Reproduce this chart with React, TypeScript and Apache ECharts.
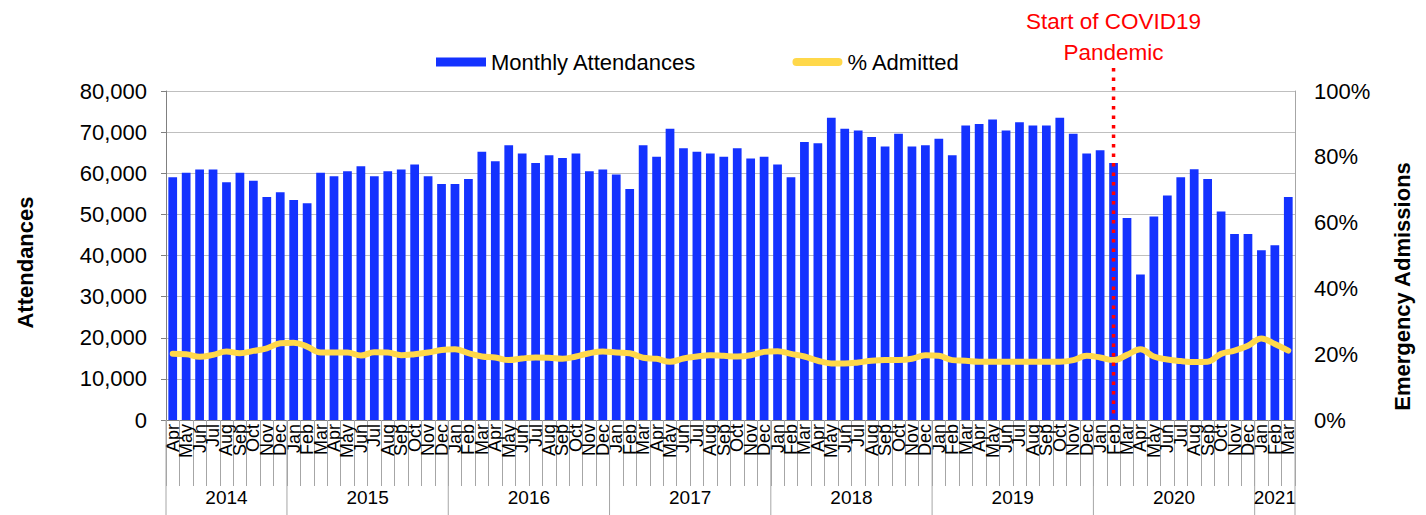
import React, { useEffect, useRef } from 'react';
import * as echarts from 'echarts';

const FONT = '"Liberation Sans", Arial, sans-serif';

const monthNames = ['Jan', 'Feb', 'Mar', 'Apr', 'May', 'Jun', 'Jul', 'Aug', 'Sep', 'Oct', 'Nov', 'Dec'];
const years = ['2014', '2015', '2016', '2017', '2018', '2019', '2020', '2021'];
const yearMonthCounts = [9, 12, 12, 12, 12, 12, 12, 3];
const firstMonthIndex = 3; // April 2014

const attendances = [
  // 2014 Apr-Dec
  59000, 60100, 60900, 60900, 57800, 60100, 58200, 54200, 55400,
  // 2015
  53500, 52700, 60100, 59300, 60500, 61700, 59300, 60500, 60900, 62100, 59300, 57400,
  // 2016
  57400, 58600, 65200, 62900, 66800, 64800, 62500, 64400, 63700, 64800, 60500, 60900,
  // 2017
  59700, 56200, 66800, 64000, 70800, 66100, 65200, 64800, 64000, 66100, 63600, 64000,
  // 2018
  62100, 59000, 67600, 67300, 73500, 70800, 70400, 68800, 66500, 69600, 66500, 66800,
  // 2019
  68400, 64400, 71600, 72000, 73100, 70400, 72400, 71600, 71600, 73500, 69600, 64800,
  // 2020
  65600, 62500, 49100, 35400, 49500, 54600, 59000, 61000, 58600, 50700, 45200, 45200,
  // 2021 Jan-Mar
  41300, 42500, 54200,
];

const pctAdmitted = [
  20.1, 20.0, 19.2, 19.8, 20.8, 20.3, 21.0, 21.8, 23.3,
  23.5, 22.3, 20.5, 20.5, 20.5, 19.6, 20.6, 20.5, 19.7, 20.0, 20.5, 21.3,
  21.5, 20.3, 19.3, 19.0, 18.2, 18.7, 19.0, 18.9, 18.6, 19.3, 20.3, 20.8,
  20.5, 20.3, 18.9, 18.6, 17.7, 18.7, 19.3, 19.7, 19.5, 19.3, 19.7, 20.7,
  20.9, 20.1, 19.3, 18.0, 17.2, 17.2, 17.5, 18.0, 18.2, 18.2, 18.6, 19.7,
  19.5, 18.2, 18.0, 17.7, 17.7, 17.7, 17.7, 17.7, 17.7, 17.7, 18.2, 19.5,
  19.0, 18.2, 19.8, 21.5, 19.3, 18.4, 17.9, 17.6, 17.7, 20.1, 21.1, 22.6,
  24.8, 23.1, 21.1,
];

const pandemicIndex = 70; // Feb 2020
const pandemicLabel = ['Start of COVID19', 'Pandemic'];

const categories: string[] = [];
{
  let m = firstMonthIndex;
  yearMonthCounts.forEach((count) => {
    for (let k = 0; k < count; k++) {
      categories.push(monthNames[m % 12]);
      m++;
    }
  });
}

const PILL = 'path://M4,0 L46,0 A4,4 0 0 1 46,8 L4,8 A4,4 0 0 1 4,0 Z';

export default function App() {
  const ref = useRef<HTMLDivElement>(null);

  useEffect(() => {
    document.body.style.margin = '0';
    const chart = echarts.init(ref.current!, null, { renderer: 'svg' });
    const option: any = {
      animation: false,
      backgroundColor: '#ffffff',
      textStyle: { fontFamily: FONT },
      grid: { left: 166, right: 131, top: 91, bottom: 95, containLabel: false },
      legend: {
        left: 431,
        top: 46,
        itemGap: 96,
        itemWidth: 50,
        itemHeight: 9,
        textStyle: { fontSize: 22, color: '#000', fontFamily: FONT },
        data: [
          { name: 'Monthly Attendances', icon: 'rect' },
          { name: '% Admitted', icon: PILL, itemStyle: { color: '#ffd84a' } },
        ],
      },
      xAxis: {
        type: 'category',
        data: categories,
        axisLine: { lineStyle: { color: '#808080', width: 1 } },
        axisTick: { show: true, interval: 0, length: 66, lineStyle: { color: '#a6a6a6' } },
        axisLabel: {
          interval: 0,
          rotate: 90,
          fontSize: 18,
          color: '#000',
          margin: 4,
          fontFamily: FONT,
        },
      },
      yAxis: [
        {
          type: 'value',
          min: 0,
          max: 80000,
          interval: 10000,
          name: 'Attendances',
          nameLocation: 'middle',
          nameRotate: 90,
          nameGap: 130,
          nameTextStyle: {
            fontSize: 22,
            fontWeight: 'bold',
            color: '#000',
            fontFamily: FONT,
            padding: [0, 14, 0, 0],
          },
          axisLine: { show: true, lineStyle: { color: '#808080' } },
          axisTick: { show: true, length: 5, lineStyle: { color: '#808080' } },
          splitLine: { show: true, lineStyle: { color: '#bfbfbf', width: 1 } },
          axisLabel: {
            fontSize: 22,
            color: '#000',
            margin: 19,
            fontFamily: FONT,
            formatter: (v: number) => v.toLocaleString('en-US'),
          },
        },
        {
          type: 'value',
          min: 0,
          max: 100,
          interval: 20,
          name: 'Emergency Admissions',
          nameLocation: 'middle',
          nameRotate: 90,
          nameGap: 96,
          nameTextStyle: {
            fontSize: 22,
            fontWeight: 'bold',
            color: '#000',
            fontFamily: FONT,
            padding: [0, 62, 0, 0],
          },
          axisLine: { show: true, lineStyle: { color: '#a6a6a6' } },
          axisTick: { show: false },
          splitLine: { show: false },
          axisLabel: {
            fontSize: 22,
            color: '#000',
            margin: 19,
            fontFamily: FONT,
            formatter: '{value}%',
          },
        },
      ],
      series: [
        {
          name: 'Monthly Attendances',
          type: 'bar',
          data: attendances,
          barCategoryGap: '35%',
          itemStyle: { color: '#1432ff' },
          z: 2,
        },
        {
          name: '% Admitted',
          type: 'line',
          yAxisIndex: 1,
          data: pctAdmitted,
          smooth: 0.4,
          symbol: 'none',
          lineStyle: { color: '#ffd84a', width: 6, cap: 'round', join: 'round' },
          itemStyle: { color: '#ffd84a' },
          z: 4,
        },
      ],
    };
    chart.setOption(option);

    const px = (i: number) => chart.convertToPixel({ xAxisIndex: 0 }, i) as number;
    const py0 = chart.convertToPixel({ yAxisIndex: 0 }, 0) as number;
    const pyTop = chart.convertToPixel({ yAxisIndex: 0 }, 80000) as number;
    const band = px(1) - px(0);
    const H = 515;

    const graphics: any[] = [];
    let start = 0;
    yearMonthCounts.forEach((count, yi) => {
      const end = start + count;
      const xLeft = px(start) - band / 2;
      graphics.push({
        type: 'line',
        shape: { x1: xLeft, y1: py0, x2: xLeft, y2: H },
        style: { stroke: '#a6a6a6', lineWidth: 1 },
        z: 10,
      });
      graphics.push({
        type: 'text',
        x: (px(start) + px(end - 1)) / 2,
        y: 497,
        style: {
          text: years[yi],
          fontSize: 19,
          fontFamily: FONT,
          fill: '#000',
          textAlign: 'center',
          textVerticalAlign: 'middle',
        },
        z: 10,
      });
      start = end;
    });
    const xRight = px(start - 1) + band / 2;
    graphics.push({
      type: 'line',
      shape: { x1: xRight, y1: py0, x2: xRight, y2: H },
      style: { stroke: '#a6a6a6', lineWidth: 1 },
      z: 10,
    });

    const xp = px(pandemicIndex);
    graphics.push({
      type: 'line',
      shape: { x1: xp, y1: pyTop - 23, x2: xp, y2: py0 },
      style: { stroke: '#ff0000', lineWidth: 3.5, lineDash: [3.5, 6] },
      z: 20,
    });
    pandemicLabel.forEach((t, k) => {
      graphics.push({
        type: 'text',
        x: xp,
        y: 21 + k * 31,
        style: {
          text: t,
          fontSize: 22.5,
          fontFamily: FONT,
          fill: '#ff0000',
          textAlign: 'center',
          textVerticalAlign: 'middle',
        },
        z: 20,
      });
    });

    chart.setOption({ graphic: graphics });

    return () => chart.dispose();
  }, []);

  return <div ref={ref} style={{ width: 1426, height: 515 }} />;
}
